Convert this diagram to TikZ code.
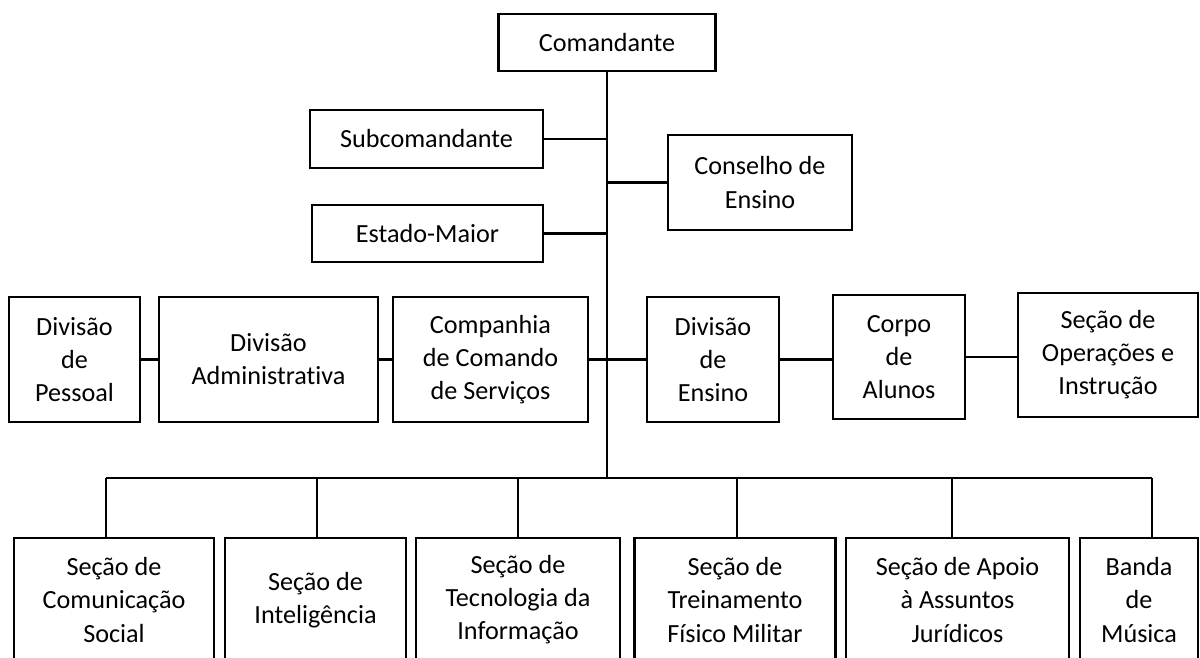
\documentclass[tikz,border=0pt]{standalone}
\usepackage{fontspec}
\setmainfont{Carlito}[Ligatures=NoCommon]
\usepackage{tikz}
\newcommand{\orgfont}{\fontsize{14.9}{18.8}\selectfont}

\begin{document}
\begin{tikzpicture}[x=0.02cm,y=-0.02cm]
      \tikzstyle box=[draw, line width=1.2pt, align=center, inner sep=0pt, font=\orgfont]
      \tikzstyle link=[line width=1.2pt]
      \useasboundingbox (0,0) rectangle (1200,658);
      \clip (0,0) rectangle (1200,658);
      % top of the chart
      \node [box, minimum width=4.34cm, minimum height=1.14cm] (cmd) at (607,42.5) {Comandante};
      \node [box, minimum width=4.66cm, minimum height=1.16cm] (sub) at (426.5,139) {Subcomandante};
      \node [box, minimum width=4.62cm, minimum height=1.14cm] (em) at (427.5,233.5) {Estado-Maior};
      \node [box, minimum width=3.68cm, minimum height=1.9cm] (cons) at (760,182.5) {Conselho de\\Ensino};
      % middle row
      \node [box, minimum width=2.62cm, minimum height=2.5cm] (pes) at (74.5,359.5) {Divisão\\de\\Pessoal};
      \node [box, minimum width=4.38cm, minimum height=2.5cm] (adm) at (268.5,359.5) {Divisão\\Administrativa};
      \node [box, minimum width=3.9cm, minimum height=2.5cm] (cia) at (490.5,359.5) {Companhia\\de Comando\\de Serviços};
      \node [box, minimum width=2.64cm, minimum height=2.5cm] (den) at (713,359.5) {Divisão\\de\\Ensino};
      \node [box, minimum width=2.64cm, minimum height=2.48cm] (cal) at (899,357) {Corpo\\de\\Alunos};
      \node [box, minimum width=3.6cm, minimum height=2.48cm] (sop) at (1108,355) {Seção de\\Operações e\\Instrução};
      % bottom row
      \node [box, minimum width=4.0cm, minimum height=2.48cm] (b1) at (114,600) {Seção de\\Comunicação\\Social};
      \node [box, minimum width=3.62cm, minimum height=2.48cm] (b2) at (315.5,600) {Seção de\\Inteligência};
      \node [box, minimum width=4.08cm, minimum height=2.48cm] (b3) at (518,600) {Seção de\\Tecnologia da\\Informação};
      \node [box, minimum width=4.02cm, minimum height=2.48cm] (b4) at (735,600) {Seção de\\Treinamento\\Físico Militar};
      \node [box, minimum width=4.46cm, minimum height=2.48cm] (b5) at (957.5,600) {Seção de Apoio\\à Assuntos\\Jurídicos};
      \node [box, minimum width=2.36cm, minimum height=2.48cm] (b6) at (1139,600) {Banda\\de\\Música};
      % connectors
      \coordinate (trunk) at (607,478);
      \draw [link] (cmd.south) -- (trunk);
      \draw [link] (sub.east) -- (sub.east -| trunk);
      \draw [link] (em.east) -- (em.east -| trunk);
      \draw [link] (cons.west) -- (cons.west -| trunk);
      \draw [link] (pes) -- (adm);
      \draw [link] (adm) -- (cia);
      \draw [link] (cia.east) -- (den.west);
      \draw [link] (den.east) -- (den.east -| cal.west);
      \draw [link] (cal.east) -- (cal.east -| sop.west);
      \foreach \b/\x in {b1/106, b2/317, b3/518, b4/737, b5/952, b6/1152}
        \coordinate (d\b) at (\x,478);
      \draw [link] (db1) -- (db6);
      \foreach \b in {b1,b2,b3,b4,b5,b6}
        \draw [link] (d\b) -- (d\b |- \b.north);
    \end{tikzpicture}
\end{document}
